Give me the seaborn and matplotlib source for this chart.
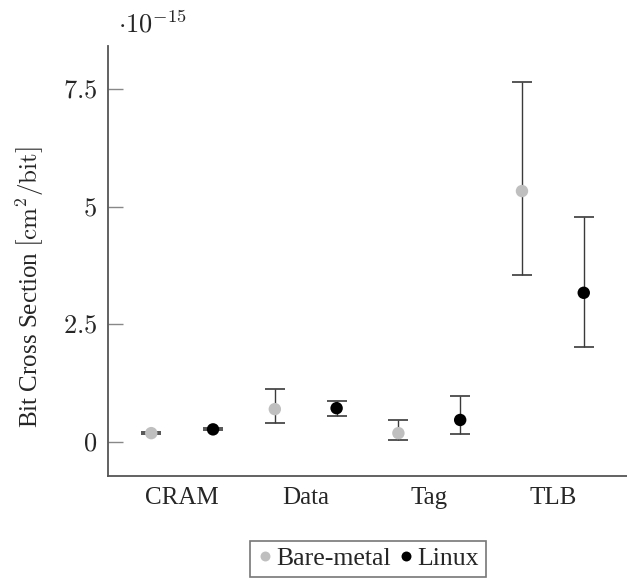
import numpy as np
import pandas as pd
import seaborn as sns
import matplotlib
matplotlib.use("Agg")
import matplotlib.pyplot as plt

# values in units of 1e-15 cm^2/bit
categories = ["CRAM", "Data", "Tag", "TLB"]
bare_val = [0.19, 0.70, 0.19, 5.33]
bare_lo = [0.17, 0.40, 0.05, 3.55]
bare_hi = [0.21, 1.12, 0.47, 7.65]
linux_val = [0.27, 0.72, 0.47, 3.17]
linux_lo = [0.25, 0.56, 0.18, 2.01]
linux_hi = [0.29, 0.88, 0.98, 4.77]

sns.set_style("white")
plt.rcParams["font.family"] = ["Liberation Serif", "DejaVu Serif"]
plt.rcParams["mathtext.fontset"] = "cm"

rows = []
for name, vals, los, his in [("Bare-metal", bare_val, bare_lo, bare_hi),
                             ("Linux", linux_val, linux_lo, linux_hi)]:
    for i, c in enumerate(categories):
        rows.append({"cat": c, "idx": i, "series": name,
                     "val": vals[i], "lo": los[i], "hi": his[i]})
df = pd.DataFrame(rows)
offsets = {"Bare-metal": -0.25, "Linux": 0.25}
df["x"] = df["idx"] + df["series"].map(offsets)

palette = {"Bare-metal": "#bfbfbf", "Linux": "black"}

fig = plt.figure(figsize=(6.27, 5.81), dpi=100)
ax = fig.add_axes([108 / 627, 1 - 476 / 581, 1 - 108 / 627, (476 - 46) / 581])

for name, sub in df.groupby("series"):
    ax.errorbar(sub["x"], sub["val"],
                yerr=[sub["val"] - sub["lo"], sub["hi"] - sub["val"]],
                fmt="none", ecolor="#3a3a3a", elinewidth=1.0,
                capsize=7.5, capthick=1.2, zorder=2)

sns.scatterplot(data=df, x="x", y="val", hue="series", palette=palette,
                s=80, edgecolor="none", ax=ax, zorder=3, legend=True)

ax.set_xlim(-0.6, 3.6)
ax.set_ylim(-0.72, 8.41)
ax.set_xticks(range(len(categories)))
ax.set_xticklabels(categories, fontsize=18)
ax.set_yticks([0, 2.5, 5, 7.5])
ax.set_yticklabels([r"$0$", r"$2.5$", r"$5$", r"$7.5$"], fontsize=19)
ax.tick_params(axis="x", length=0, pad=8)
ax.tick_params(axis="y", direction="in", length=11, width=1,
               color="#888888", pad=8, left=True)
ax.set_xlabel("")
ax.set_ylabel(r"Bit Cross Section $\left[\mathrm{cm}^2/\mathrm{bit}\right]$",
              fontsize=18)
ax.yaxis.set_label_coords(-0.12, 0.44)

for s in ["top", "right"]:
    ax.spines[s].set_visible(False)
for s in ["left", "bottom"]:
    ax.spines[s].set_color("#555555")
    ax.spines[s].set_linewidth(1.3)

fig.text(118 / 627, 1 - 24 / 581, r"$\cdot 10^{-15}$", fontsize=19,
         ha="left", va="center")

handles, labels = ax.get_legend_handles_labels()
ax.legend(handles, labels, loc="upper center", ncol=2,
          bbox_to_anchor=(368 / 627, 1 - 541 / 581),
          bbox_transform=fig.transFigure, fontsize=18.5, frameon=True,
          fancybox=False, edgecolor="#555555", handlelength=0.6,
          handletextpad=0.15, columnspacing=0.3, borderpad=0.25,
          borderaxespad=0, markerscale=0.8)
ax.get_legend().get_frame().set_linewidth(1.2)

fig.savefig("out.png", dpi=100)
